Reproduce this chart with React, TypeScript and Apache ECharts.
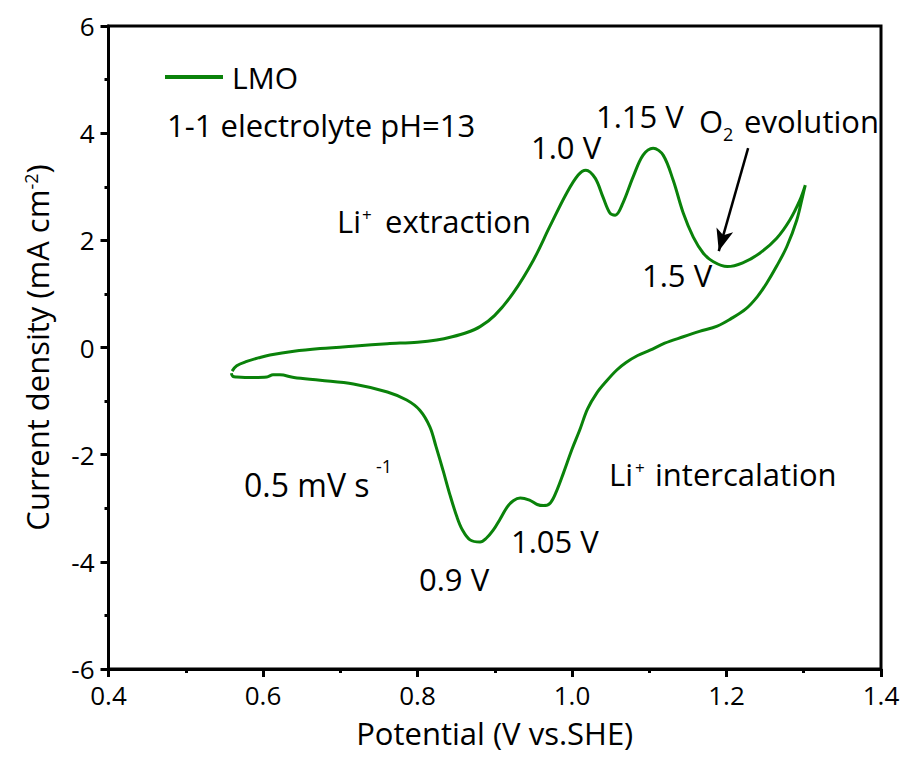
import React, { useEffect, useRef } from "react";
import * as echarts from "echarts";

// Anodic (forward) scan: potential (V vs. SHE) and current density (mA cm^-2)
const anodicPotential = [
  0.560, 0.566, 0.579, 0.595, 0.609, 0.640, 0.674, 0.720, 0.761, 0.800,
  0.825, 0.845, 0.864, 0.881, 0.900, 0.924, 0.950, 0.971, 0.993, 1.008,
  1.018, 1.030, 1.040, 1.049, 1.056, 1.066, 1.079, 1.092, 1.105, 1.118,
  1.131, 1.144, 1.157, 1.170, 1.183, 1.201, 1.221, 1.243, 1.265, 1.282,
  1.295, 1.302,
];
const anodicCurrent = [
  -0.44, -0.34, -0.26, -0.19, -0.14, -0.07, -0.02, 0.03, 0.07, 0.10,
  0.14, 0.20, 0.28, 0.39, 0.60, 1.02, 1.63, 2.25, 2.88, 3.22,
  3.31, 3.16, 2.81, 2.51, 2.47, 2.70, 3.18, 3.59, 3.72, 3.59,
  3.12, 2.51, 2.06, 1.76, 1.60, 1.51, 1.58, 1.76, 2.04, 2.38,
  2.75, 3.03,
];

// Cathodic (reverse) scan
const cathodicPotential = [
  1.302, 1.299, 1.291, 1.278, 1.265, 1.252, 1.240, 1.225, 1.205, 1.188,
  1.165, 1.144, 1.120, 1.101, 1.085, 1.070, 1.058, 1.045, 1.032, 1.020,
  1.010, 1.000, 0.989, 0.980, 0.972, 0.963, 0.955, 0.945, 0.933, 0.924,
  0.916, 0.907, 0.898, 0.889, 0.881, 0.868, 0.858, 0.851, 0.842, 0.833,
  0.824, 0.816, 0.803, 0.786, 0.761, 0.717, 0.674, 0.640, 0.622, 0.613,
  0.605, 0.585, 0.566, 0.561, 0.559,
];
const cathodicCurrent = [
  3.03, 2.85, 2.38, 1.88, 1.52, 1.20, 0.95, 0.72, 0.53, 0.40,
  0.30, 0.20, 0.08, -0.05, -0.15, -0.28, -0.42, -0.62, -0.85, -1.15,
  -1.54, -1.90, -2.34, -2.68, -2.90, -2.95, -2.93, -2.85, -2.81, -2.86,
  -2.98, -3.20, -3.41, -3.56, -3.63, -3.59, -3.40, -3.16, -2.75, -2.29,
  -1.85, -1.48, -1.17, -0.98, -0.83, -0.68, -0.61, -0.56, -0.51, -0.51,
  -0.55, -0.56, -0.55, -0.54, -0.48,
];

// O2 evolution arrow (start, end) in data coordinates
const arrowStart = [1.228, 3.72];
const arrowEnd = [1.190, 1.80];

const seriesName = "LMO";
const lineColor = "#0a820a";
const FONT = "Open Sans";

export default function App() {
  const ref = useRef<HTMLDivElement>(null);

  useEffect(() => {
    if (!ref.current) return;
    const chart = echarts.init(ref.current, undefined, { renderer: "svg" });

    const data: number[][] = [];
    anodicPotential.forEach((v, i) => data.push([v, anodicCurrent[i]]));
    cathodicPotential.forEach((v, i) => data.push([v, cathodicCurrent[i]]));

    const txt = (text: string, x: number, y: number, size = 31) => ({
      type: "text",
      x,
      y,
      silent: true,
      style: {
        text,
        fill: "#000",
        fontSize: size,
        fontFamily: FONT,
        align: "left",
        verticalAlign: "middle",
      },
    });

    chart.setOption({
      animation: false,
      textStyle: { fontFamily: FONT },
      grid: {
        left: 108.5,
        right: 25,
        top: 26,
        bottom: 94,
        show: true,
        borderColor: "#000",
        borderWidth: 3,
      },
      legend: {
        left: 165,
        top: 62,
        padding: 0,
        itemWidth: 58,
        itemHeight: 4,
        icon: "rect",
        data: [seriesName],
        textStyle: { fontSize: 30, color: "#000", fontFamily: FONT, padding: [0, 0, 0, 4] },
      },
      xAxis: {
        type: "value",
        min: 0.4,
        max: 1.4,
        interval: 0.2,
        name: "Potential (V vs.SHE)",
        nameLocation: "middle",
        nameGap: 48,
        nameTextStyle: { fontSize: 31, color: "#000", fontFamily: FONT },
        axisLine: { show: true, onZero: false, lineStyle: { color: "#000", width: 3 } },
        axisTick: { show: true, inside: false, length: 8, lineStyle: { width: 3, color: "#000" } },
        minorTick: { show: true, splitNumber: 2, length: 4, lineStyle: { width: 3, color: "#000" } },
        axisLabel: {
          fontSize: 26,
          color: "#000",
          margin: 13,
          formatter: (v: number) => v.toFixed(1),
        },
        splitLine: { show: false },
      },
      yAxis: {
        type: "value",
        min: -6,
        max: 6,
        interval: 2,
        name: "{a|Current density (mA cm}{s|-2}{a|)}",
        nameLocation: "middle",
        nameRotate: 90,
        nameGap: 56,
        nameTextStyle: {
          color: "#000",
          fontFamily: FONT,
          rich: {
            a: { fontSize: 31, color: "#000", fontFamily: FONT },
            s: { fontSize: 18, color: "#000", fontFamily: FONT, verticalAlign: "top" },
          },
        },
        axisLine: { show: true, onZero: false, lineStyle: { color: "#000", width: 3 } },
        axisTick: { show: true, inside: false, length: 8, lineStyle: { width: 3, color: "#000" } },
        minorTick: { show: true, splitNumber: 2, length: 4, lineStyle: { width: 3, color: "#000" } },
        axisLabel: { fontSize: 26, color: "#000", margin: 14 },
        splitLine: { show: false },
      },
      series: [
        {
          name: seriesName,
          type: "line",
          data,
          smooth: 0.35,
          showSymbol: false,
          symbol: "none",
          color: lineColor,
          lineStyle: { color: lineColor, width: 3 },
          silent: true,
          markLine: {
            silent: true,
            animation: false,
            label: { show: false },
            lineStyle: { color: "#000", width: 2.5, type: "solid" },
            symbolSize: [13, 22],
            data: [
              [
                { coord: arrowStart, symbol: "none" },
                { coord: arrowEnd, symbol: "arrow" },
              ],
            ],
          },
        },
      ],
      graphic: [
        txt("1-1 electrolyte pH=13", 167, 125),
        txt("1.15 V", 596, 116),
        txt("1.0 V", 531, 147),
        txt("O", 699, 121),
        txt("2", 723, 134, 18),
        txt("evolution", 744, 121),
        txt("Li", 337, 221),
        txt("+", 362, 214, 17),
        txt("extraction", 385, 221),
        txt("1.5 V", 642, 275),
        txt("0.5 mV s", 244, 484, 32),
        txt("-1", 376, 466, 18),
        txt("Li", 609, 474),
        txt("+", 635, 467, 17),
        txt("intercalation", 655, 474),
        txt("1.05 V", 511, 541),
        txt("0.9 V", 419, 579),
      ],
    });

    return () => chart.dispose();
  }, []);

  return (
    <div
      ref={ref}
      style={{ position: "fixed", left: 0, top: 0, width: 906, height: 763, background: "#fff" }}
    />
  );
}
